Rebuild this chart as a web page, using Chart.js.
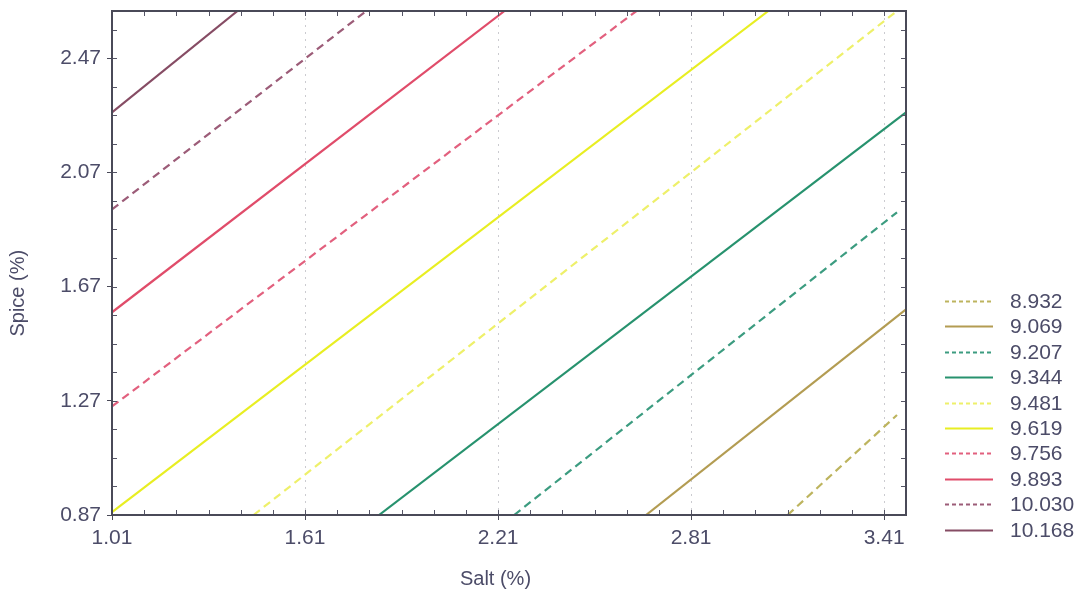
<!DOCTYPE html>
<html>
<head>
<meta charset="utf-8">
<script src="https://cdn.jsdelivr.net/npm/chart.js@4.4.1/dist/chart.umd.min.js"></script>
<style>
  html, body { margin: 0; padding: 0; background: #ffffff; }
  #wrap { width: 1083px; height: 598px; position: relative; }
</style>
</head>
<body>
<div id="wrap"><canvas id="c" width="1083" height="598"></canvas></div>
<script>
// Contour levels of the response surface (lowest to highest)
const levels = ['8.932', '9.069', '9.207', '9.344', '9.481', '9.619', '9.756', '9.893', '10.030', '10.168'];
// Each contour is a straight segment across the plot: start and end in (Salt, Spice)
const startX = [3.11, 2.67, 2.26, 1.84, 1.45, 1.01, 1.01, 1.01, 1.01, 1.01];
const startY = [0.87, 0.87, 0.87, 0.87, 0.87, 0.88, 1.25, 1.58, 1.94, 2.28];
const endX   = [3.45, 3.478, 3.45, 3.478, 3.45, 3.05, 2.64, 2.23, 1.80, 1.40];
const endY   = [1.22, 1.59, 1.93, 2.28, 2.635, 2.635, 2.635, 2.635, 2.635, 2.635];
// Axis ticks
const xTicks = [1.01, 1.61, 2.21, 2.81, 3.41];
const yTicks = [0.87, 1.27, 1.67, 2.07, 2.47];
const xRange = [1.01, 3.478];
const yRange = [0.87, 2.635];

// Line styles per level
const lineColors = ['#bdb45e', '#b39c52', '#3c9c80', '#27926e', '#eef06a',
                    '#e8ee22', '#e2607e', '#e04c6a', '#9c5c78', '#864c64'];
const isDashed   = [true, false, true, false, true, false, true, false, true, false];

const FONT = "'Liberation Sans', Arial, sans-serif";
const TEXT = '#4c4c68';

const datasets = levels.map((lv, i) => ({
  label: lv,
  data: [{ x: startX[i], y: startY[i] }, { x: endX[i], y: endY[i] }],
  borderColor: lineColors[i],
  backgroundColor: lineColors[i],
  borderWidth: 2.2,
  borderDash: isDashed[i] ? [8, 5] : [],
  showLine: true,
  pointRadius: 0,
  tension: 0,
  clip: 0
}));

// Frame, inner minor ticks, axis titles and the level legend
const decorations = {
  id: 'decorations',
  afterDraw(chart) {
    const { ctx, chartArea: a, scales } = chart;
    const xs = scales.x, ys = scales.y;
    ctx.save();

    // minor ticks pointing inward on all four sides
    ctx.strokeStyle = '#555566';
    ctx.lineWidth = 1;
    ctx.beginPath();
    for (let k = 0; xTicks[0] + k * 0.1 <= xRange[1] + 1e-9; k++) {
      const px = Math.round(xs.getPixelForValue(xTicks[0] + k * 0.1)) + 0.5;
      ctx.moveTo(px, a.bottom); ctx.lineTo(px, a.bottom - 5);
      ctx.moveTo(px, a.top); ctx.lineTo(px, a.top + 5);
    }
    for (let k = 0; yTicks[0] + k * 0.1 <= yRange[1] + 1e-9; k++) {
      const py = Math.round(ys.getPixelForValue(yTicks[0] + k * 0.1)) + 0.5;
      ctx.moveTo(a.left, py); ctx.lineTo(a.left + 5, py);
      ctx.moveTo(a.right, py); ctx.lineTo(a.right - 5, py);
    }
    ctx.stroke();

    // plot frame
    ctx.strokeStyle = '#4a4a58';
    ctx.lineWidth = 2;
    ctx.strokeRect(a.left, a.top, a.right - a.left, a.bottom - a.top);

    // axis titles
    ctx.fillStyle = TEXT;
    ctx.font = '20px ' + FONT;
    ctx.textAlign = 'center';
    ctx.textBaseline = 'middle';
    ctx.fillText('Salt (%)', a.left + (a.right - a.left) * 0.483, a.bottom + 64);
    ctx.save();
    ctx.translate(a.left - 94, a.top + (a.bottom - a.top) * 0.56);
    ctx.rotate(-Math.PI / 2);
    ctx.fillText('Spice (%)', 0, 0);
    ctx.restore();

    // legend: line sample + level value
    const lx0 = a.right + 39, lx1 = a.right + 87, tx = a.right + 104;
    const y0 = a.bottom - 214, step = 25.4;
    ctx.font = '21px ' + FONT;
    ctx.textAlign = 'left';
    chart.data.datasets.forEach((ds, i) => {
      const y = Math.round(y0 + i * step) + 0.5;
      ctx.strokeStyle = ds.borderColor;
      ctx.lineWidth = 2;
      ctx.setLineDash(ds.borderDash.length ? [4, 3] : []);
      ctx.beginPath();
      ctx.moveTo(lx0, y); ctx.lineTo(lx1, y);
      ctx.stroke();
      ctx.setLineDash([]);
      ctx.fillStyle = TEXT;
      ctx.fillText(ds.label, tx, y + 1);
    });
    ctx.restore();
  }
};

new Chart(document.getElementById('c'), {
  type: 'scatter',
  data: { datasets },
  options: {
    responsive: false,
    animation: false,
    devicePixelRatio: 1,
    layout: { padding: { top: 11, right: 177, left: 0, bottom: 0 } },
    plugins: { legend: { display: false }, tooltip: { enabled: false } },
    scales: {
      x: {
        type: 'linear',
        min: xRange[0], max: xRange[1],
        afterBuildTicks: s => { s.ticks = xTicks.map(v => ({ value: v })); },
        afterFit: s => { s.height = 83; s.paddingLeft = 0; s.paddingRight = 0; },
        ticks: {
          callback: v => Number(v).toFixed(2),
          font: { family: FONT, size: 21 }, color: TEXT,
          padding: 6, maxRotation: 0, autoSkip: false
        },
        grid: {
          color: 'rgba(160,160,170,0.55)', lineWidth: 1,
          drawTicks: true, tickLength: 5, tickColor: '#4a4a58', tickWidth: 1, tickBorderDash: []
        },
        border: { display: false, dash: [2, 5] }
      },
      y: {
        type: 'linear',
        min: yRange[0], max: yRange[1],
        afterBuildTicks: s => { s.ticks = yTicks.map(v => ({ value: v })); },
        afterFit: s => { s.width = 112; s.paddingTop = 0; s.paddingBottom = 0; },
        ticks: {
          callback: v => Number(v).toFixed(2),
          font: { family: FONT, size: 21 }, color: TEXT,
          padding: 6, autoSkip: false
        },
        grid: {
          drawOnChartArea: false,
          drawTicks: true, tickLength: 5, tickColor: '#4a4a58', tickWidth: 1
        },
        border: { display: false }
      }
    }
  },
  plugins: [decorations]
});
</script>
</body>
</html>
